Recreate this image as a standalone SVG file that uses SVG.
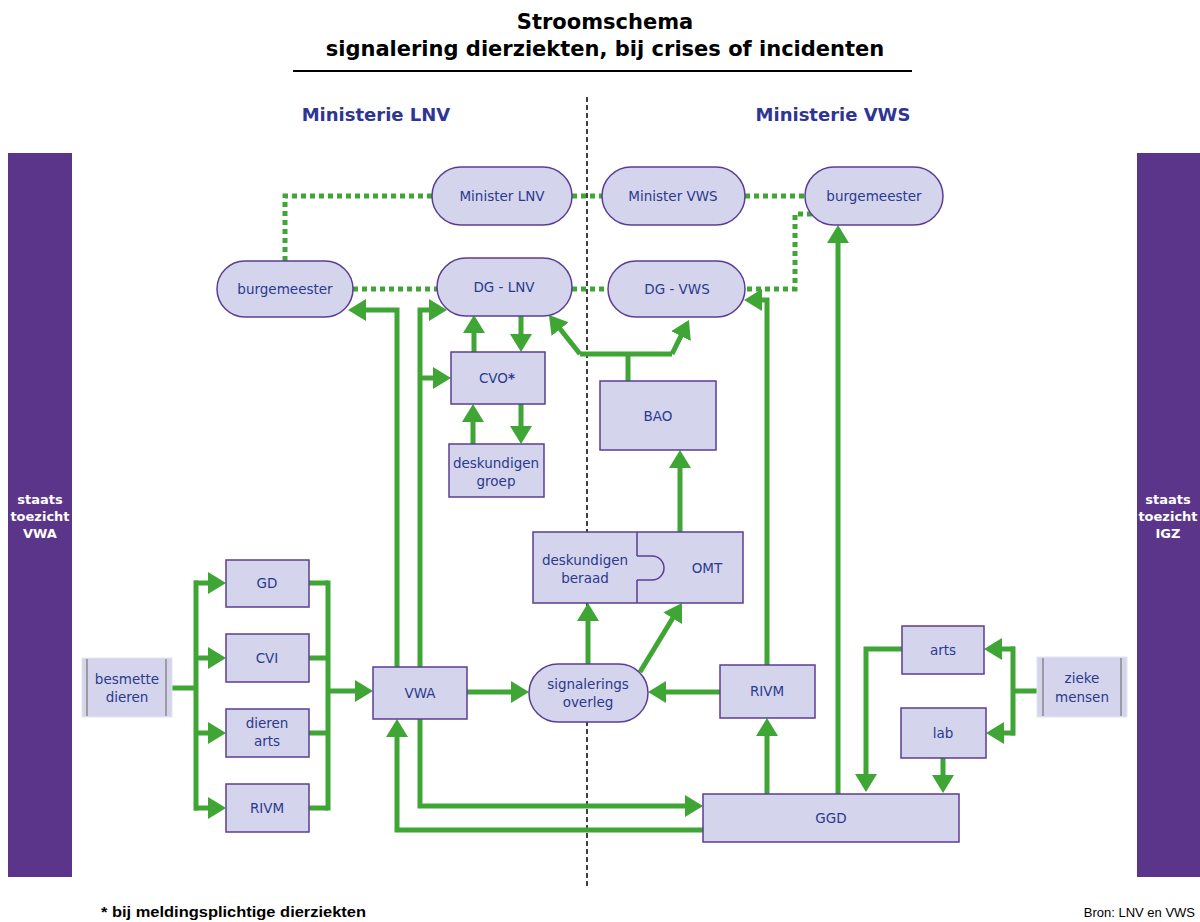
<svg xmlns="http://www.w3.org/2000/svg" width="1200" height="922" viewBox="0 0 1200 922">
<style>
.n{fill:#d4d4ec;stroke:#5c3d93;stroke-width:1.5}
.t{font-family:"DejaVu Sans",Verdana,sans-serif;font-size:13.5px;fill:#2b3a8e;text-anchor:middle}
.c{fill:none;stroke:#3fa535;stroke-width:5}
.a{marker-end:url(#ah)}
.d{fill:none;stroke:#3fa535;stroke-width:5;stroke-dasharray:5 4}
.bar{fill:#5b3589}
.bt{font-family:"DejaVu Sans",Verdana,sans-serif;font-size:13px;font-weight:bold;fill:#ffffff;text-anchor:middle}
.h{font-family:"DejaVu Sans",Verdana,sans-serif;font-size:18px;font-weight:bold;fill:#2e3592;text-anchor:middle}
</style>
<defs>
<marker id="ah" markerUnits="userSpaceOnUse" markerWidth="18" markerHeight="22" viewBox="0 0 18 22" refX="8" refY="11" orient="auto">
<path d="M0,0 L18,11 L0,22 z" fill="#3fa535"/>
</marker>
</defs>
<rect width="1200" height="922" fill="#ffffff"/>

<g id="title">
<text x="605" y="29" font-family="'DejaVu Sans',Verdana,sans-serif" font-size="21" font-weight="bold" text-anchor="middle" fill="#000">Stroomschema</text>
<text x="605" y="56" font-family="'DejaVu Sans',Verdana,sans-serif" font-size="21" font-weight="bold" text-anchor="middle" fill="#000">signalering dierziekten, bij crises of incidenten</text>
<line x1="293" y1="71" x2="912" y2="71" stroke="#000" stroke-width="2"/>
</g>

<g id="headers">
<text class="h" x="376" y="121">Ministerie LNV</text>
<text class="h" x="833" y="121">Ministerie VWS</text>
</g>

<line id="divider" x1="587" y1="97" x2="587" y2="887" stroke="#000" stroke-width="1.5" stroke-dasharray="5 3"/>

<g id="bar-vwa">
<rect class="bar" x="8" y="153" width="64" height="724"/>
<text class="bt" x="40" y="504">staats</text>
<text class="bt" x="40" y="521">toezicht</text>
<text class="bt" x="40" y="538">VWA</text>
</g>
<g id="bar-igz">
<rect class="bar" x="1137" y="153" width="63" height="724"/>
<text class="bt" x="1168" y="504">staats</text>
<text class="bt" x="1168" y="521">toezicht</text>
<text class="bt" x="1168" y="538">IGZ</text>
</g>

<g id="connectors">
<!-- dotted -->
<path class="d" d="M285,261 V196 H432"/>
<path class="d" d="M353,289 H437"/>
<path class="d" d="M572,289 H608"/>
<path class="d" d="M572,196 H602"/>
<path class="d" d="M745,196 H805"/>
<path class="d" d="M812,214 H795 V289 H745"/>
<!-- left fan -->
<path class="c" d="M172,688 H196"/>
<path class="c" d="M196,583 V808" stroke-linecap="square"/>
<path class="c a" d="M194,583 H216"/>
<path class="c a" d="M194,658 H216"/>
<path class="c a" d="M194,733 H216"/>
<path class="c a" d="M194,808 H216"/>
<path class="c" d="M309,583 H328 M309,658 H328 M309,733 H328 M309,808 H328"/>
<path class="c" d="M328,583 V808" stroke-linecap="square"/>
<path class="c a" d="M328,691 H363"/>
<!-- VWA -->
<path class="c a" d="M467,692 H519"/>
<path class="c a" d="M397,667 V310 H358"/>
<path class="c a" d="M420,667 V310 H437"/>
<path class="c a" d="M420,378 H441"/>
<path class="c a" d="M420,719 V806 H693"/>
<path class="c a" d="M703,830 H397 V729"/>
<!-- CVO -->
<path class="c a" d="M474,352 V325"/>
<path class="c a" d="M521,316 V342"/>
<path class="c a" d="M473,444 V414"/>
<path class="c a" d="M521,404 V434"/>
<!-- BAO -->
<path class="c" d="M628,381 V354"/>
<path class="c" d="M580,354 H672" stroke-linejoin="round"/>
<path class="c a" d="M580,354 L555.2,322.8"/>
<path class="c a" d="M672,354 L684.5,328.9"/>
<path class="c a" d="M680,532 V460"/>
<!-- signalering -->
<path class="c a" d="M588,664 V613"/>
<path class="c a" d="M640,672 L676.8,611.5"/>
<path class="c a" d="M720,692 H658"/>
<!-- RIVM / GGD -->
<path class="c a" d="M767,665 V300 H754"/>
<path class="c a" d="M767,794 V728"/>
<path class="c a" d="M838,794 V235"/>
<!-- zieke mensen -->
<path class="c" d="M1037,691 H1013"/>
<path class="c" d="M1013,649 V733" stroke-linecap="square"/>
<path class="c a" d="M1015,649 H994"/>
<path class="c a" d="M1015,733 H996"/>
<path class="c a" d="M902,649 H866 V782"/>
<path class="c a" d="M943,758 V783"/>
</g>

<g id="minister-lnv"><rect class="n" x="432" y="167" width="140" height="58" rx="29"/><text class="t" x="502" y="201">Minister LNV</text></g>
<g id="minister-vws"><rect class="n" x="602" y="167" width="143" height="58" rx="29"/><text class="t" x="673" y="201">Minister VWS</text></g>
<g id="burgemeester-vws"><rect class="n" x="805" y="167" width="138" height="58" rx="29"/><text class="t" x="874" y="201">burgemeester</text></g>
<g id="burgemeester-lnv"><rect class="n" x="217" y="261" width="136" height="56" rx="28"/><text class="t" x="285" y="294">burgemeester</text></g>
<g id="dg-lnv"><rect class="n" x="437" y="258" width="135" height="58" rx="29"/><text class="t" x="504" y="292">DG - LNV</text></g>
<g id="dg-vws"><rect class="n" x="608" y="261" width="137" height="56" rx="28"/><text class="t" x="677" y="294">DG - VWS</text></g>
<g id="cvo"><rect class="n" x="451" y="352" width="94" height="52"/><text class="t" x="497" y="383">CVO<tspan font-weight="bold">*</tspan></text></g>
<g id="deskundigen-groep"><rect class="n" x="449" y="444" width="95" height="53"/><text class="t" x="496" y="468">deskundigen</text><text class="t" x="496" y="486">groep</text></g>
<g id="bao"><rect class="n" x="600" y="381" width="116" height="69"/><text class="t" x="658" y="421">BAO</text></g>
<g id="deskundigen-beraad-omt">
<rect class="n" x="533" y="532" width="210" height="71"/>
<line x1="637" y1="532" x2="637" y2="556" stroke="#5c3d93" stroke-width="1.5"/>
<line x1="637" y1="580" x2="637" y2="603" stroke="#5c3d93" stroke-width="1.5"/>
<path d="M637,556 H652 A12,12 0 0 1 652,580 H637" fill="none" stroke="#5c3d93" stroke-width="1.5"/>
<text class="t" x="585" y="565">deskundigen</text><text class="t" x="585" y="583">beraad</text>
<text class="t" x="707" y="573">OMT</text>
</g>
<g id="signalerings-overleg"><rect class="n" x="529" y="664" width="119" height="58" rx="29"/><text class="t" x="588" y="689">signalerings</text><text class="t" x="588" y="707">overleg</text></g>
<g id="vwa"><rect class="n" x="373" y="667" width="94" height="52"/><text class="t" x="420" y="698">VWA</text></g>
<g id="rivm-vws"><rect class="n" x="720" y="665" width="95" height="53"/><text class="t" x="767" y="696">RIVM</text></g>
<g id="ggd"><rect class="n" x="703" y="794" width="256" height="48"/><text class="t" x="831" y="823">GGD</text></g>
<g id="arts"><rect class="n" x="902" y="626" width="82" height="48"/><text class="t" x="943" y="655">arts</text></g>
<g id="lab"><rect class="n" x="901" y="708" width="85" height="50"/><text class="t" x="943" y="738">lab</text></g>
<g id="gd"><rect class="n" x="226" y="560" width="83" height="47"/><text class="t" x="267" y="588">GD</text></g>
<g id="cvi"><rect class="n" x="226" y="634" width="83" height="48"/><text class="t" x="267" y="663">CVI</text></g>
<g id="dieren-arts"><rect class="n" x="226" y="709" width="83" height="48"/><text class="t" x="267" y="728">dieren</text><text class="t" x="267" y="746">arts</text></g>
<g id="rivm-lnv"><rect class="n" x="226" y="784" width="83" height="48"/><text class="t" x="267" y="813">RIVM</text></g>
<g id="besmette-dieren">
<rect x="82" y="658" width="90" height="59" fill="#d4d4ec" stroke="#e4e4f2" stroke-width="1"/>
<line x1="87" y1="659" x2="87" y2="716" stroke="#888" stroke-width="1.5"/>
<line x1="166" y1="659" x2="166" y2="716" stroke="#888" stroke-width="1.5"/>
<text class="t" x="127" y="684">besmette</text><text class="t" x="127" y="702">dieren</text>
</g>
<g id="zieke-mensen">
<rect x="1037" y="657" width="90" height="60" fill="#d4d4ec" stroke="#e4e4f2" stroke-width="1"/>
<line x1="1043" y1="658" x2="1043" y2="716" stroke="#888" stroke-width="1.5"/>
<line x1="1121" y1="658" x2="1121" y2="716" stroke="#888" stroke-width="1.5"/>
<text class="t" x="1082" y="683">zieke</text><text class="t" x="1082" y="702">mensen</text>
</g>

<g id="footer">
<text x="101" y="917" font-family="'Liberation Sans',Arial,sans-serif" font-size="15" font-weight="bold" fill="#000" textLength="265" lengthAdjust="spacingAndGlyphs">* bij meldingsplichtige dierziekten</text>
<text x="1195" y="917" font-family="'Liberation Sans',Arial,sans-serif" font-size="13" fill="#000" text-anchor="end">Bron: LNV en VWS</text>
</g>
</svg>
